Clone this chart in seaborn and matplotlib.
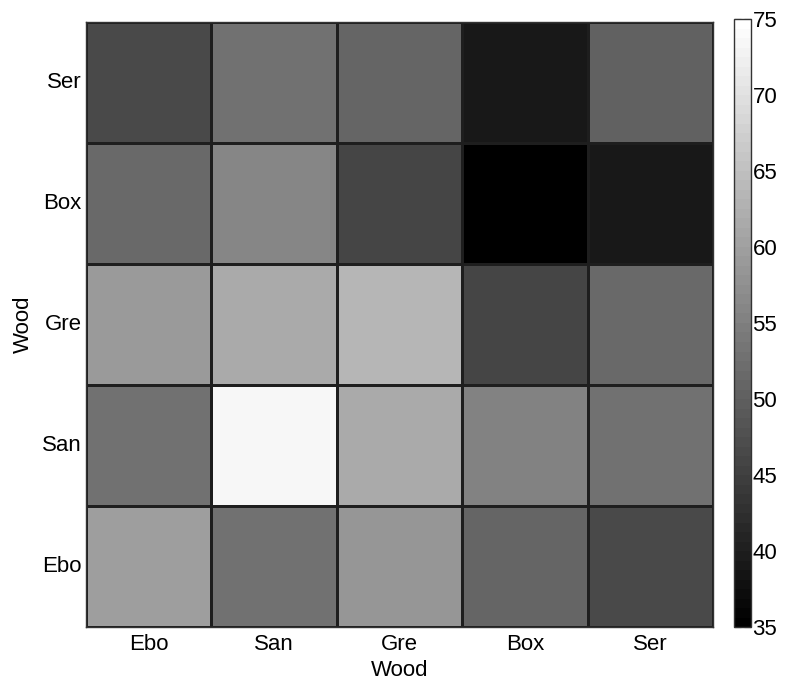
import matplotlib
matplotlib.use('Agg')
import matplotlib.pyplot as plt
import seaborn as sns
import pandas as pd
import numpy as np

# category order as shown on x axis (left to right)
woods = ['Ebo', 'San', 'Gre', 'Box', 'Ser']
# y axis labels top to bottom
rows = ['Ser', 'Box', 'Gre', 'San', 'Ebo']

row_ser = [46.8, 52.6, 51.0, 39.1, 50.4]
row_box = [51.3, 55.7, 45.8, 35.0, 39.1]
row_gre = [58.8, 61.7, 63.2, 45.8, 51.3]
row_san = [52.8, 73.3, 61.7, 55.6, 52.7]
row_ebo = [59.4, 53.0, 58.4, 51.0, 46.7]

df = pd.DataFrame([row_ser, row_box, row_gre, row_san, row_ebo],
                  index=rows, columns=woods)

sns.set_style('white')
plt.rcParams['font.family'] = ['Liberation Sans', 'DejaVu Sans']
plt.rcParams['text.color'] = 'black'
plt.rcParams['axes.labelcolor'] = 'black'
plt.rcParams['xtick.color'] = 'black'
plt.rcParams['ytick.color'] = 'black'

fig = plt.figure(figsize=(7.89, 6.82), dpi=100)
ax = fig.add_axes([86/789, 1 - 627/682, 627/789, 605/682])
cax = fig.add_axes([734/789, 1 - 627/682, 17/789, 608/682])

cmap = plt.get_cmap('gray', 64)
sns.heatmap(df, ax=ax, cbar_ax=cax, cmap=cmap, vmin=35, vmax=75,
            linewidths=0.8, linecolor='#1e1e1e', square=False)

ax.set_xlabel('Wood', fontsize=16, labelpad=4)
ax.set_ylabel('Wood', fontsize=16, labelpad=6)
ax.tick_params(axis='both', labelsize=16, length=0)
ax.tick_params(axis='y', pad=3)
ax.tick_params(axis='x', pad=5)
ax.set_yticklabels(rows, rotation=0)
ax.set_xticklabels(woods, rotation=0)
for s in ax.spines.values():
    s.set_visible(True)
    s.set_color('#333333')
    s.set_linewidth(1)

cbar = ax.collections[0].colorbar
cbar.set_ticks([35, 40, 45, 50, 55, 60, 65, 70, 75])
cax.tick_params(labelsize=16, direction='in', length=5, width=0.8,
                left=True, right=True, pad=1)
cbar.outline.set_edgecolor('#333333')
cbar.outline.set_linewidth(1)

fig.savefig('out.png', dpi=100)
